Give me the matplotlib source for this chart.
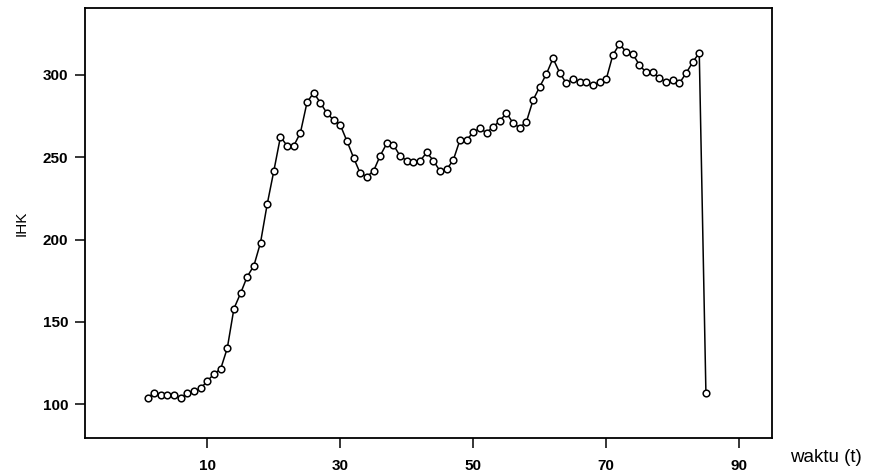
import numpy as np
from matplotlib import pyplot as plt

# ---------------------------------------------------------------------------------------------------
# Data
# ---------------------------------------------------------------------------------------------------
waktu = list(range(1, 86))
ihk = [
    103.8, 107.2, 105.8, 105.8, 105.8, 104.1, 106.8, 108.0, 109.8, 114.2,
    118.5, 121.5, 134.1, 158.1, 167.4, 177.5, 184.1, 198.1, 221.3, 241.5,
    262.3, 256.8, 256.8, 264.7, 283.2, 289.0, 282.9, 276.5, 272.4, 269.4,
    259.7, 249.6, 240.1, 238.1, 241.5, 250.8, 258.3, 257.3, 250.6, 247.8,
    247.2, 247.6, 252.8, 247.8, 241.5, 242.5, 248.2, 260.3, 260.3, 265.0,
    267.4, 264.7, 268.4, 271.8, 276.8, 270.4, 267.8, 271.4, 284.5, 292.6,
    300.3, 309.8, 301.1, 294.7, 297.1, 295.6, 295.3, 293.6, 295.3, 297.1,
    311.8, 318.5, 313.8, 312.4, 305.8, 301.3, 301.3, 297.7, 295.6, 296.7,
    294.7, 300.7, 307.4, 313.2, 107.2,
]
x_ticks = [10, 30, 50, 70, 90]
y_ticks = [100, 150, 200, 250, 300]

# ---------------------------------------------------------------------------------------------------
# Plot
# ---------------------------------------------------------------------------------------------------
plt.rcParams['font.family'] = ['Liberation Sans', 'DejaVu Sans']

fig = plt.figure(figsize=(8.72, 4.75), dpi=100)
ax = fig.add_axes([0.0975, 0.078, 0.7875, 0.905])

ax.plot(waktu, ihk, color='black', linewidth=1.1,
        marker='o', markersize=4.8, markerfacecolor='white',
        markeredgecolor='black', markeredgewidth=1.1)

ax.set_xlim(-8.4, 94.9)
ax.set_ylim(79.7, 340.3)
ax.set_xticks(x_ticks)
ax.set_yticks(y_ticks)
ax.tick_params(axis='both', direction='out', length=7, width=1.1,
               labelsize=11, color='black')
ax.tick_params(axis='x', pad=8)
ax.tick_params(axis='y', pad=5)
for lbl in ax.get_xticklabels() + ax.get_yticklabels():
    lbl.set_fontweight('bold')

for sp in ax.spines.values():
    sp.set_linewidth(1.3)
    sp.set_color('black')

ax.set_ylabel('IHK', fontsize=11, labelpad=10)
fig.text(0.906, 0.018, 'waktu (t)', fontsize=13.5, ha='left', va='bottom')

fig.savefig('out.png', dpi=100)
